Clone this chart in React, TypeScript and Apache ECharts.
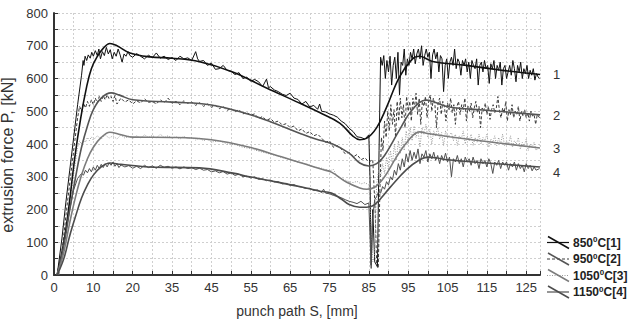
import React, { useEffect, useRef } from "react";
import * as echarts from "echarts";

// x positions are in axis-step units (one labelled step = 10 units); labels are printed as in the original
const X_TICK_LABELS = ["0", "10", "20", "35", "45", "55", "65", "75", "85", "95", "105", "115", "125"];
const TEMPS = ["850", "950", "1050", "1150"];
const CURVE_IDS = ["1", "2", "3", "4"];

// smoothed (computed) curves
const SMOOTH_850 = [[0.8,0],[2.5,100],[3.7,200],[5.3,360],[6.8,480],[8.3,575],[9.5,630],[10.9,665],[12.5,692],[14.2,707],[16,700],[19.3,678],[24.4,666],[30,662],[37,651],[45.4,620],[54,571],[62.4,525],[67.5,496],[72.6,464],[75.9,425],[77.7,413],[79.4,417],[82,450],[84.5,512],[87.8,605],[91.1,660],[92.9,668],[96.2,652],[104.8,640],[113.2,626],[123.5,612]];
const SMOOTH_950 = [[0.8,0],[2.5,90],[4,200],[5.5,300],[7,390],[8.5,455],[10,505],[12,540],[14.5,556],[16.5,550],[20,535],[30,528],[40,519],[49.7,490],[55,468],[62.4,433],[66.5,415],[70.8,400],[75,372],[77.7,342],[80,333],[82,340],[84,365],[87.8,443],[91,504],[94.6,534],[96.2,530],[100.5,513],[108.9,504],[123.5,489]];
const SMOOTH_1050 = [[0.8,0],[2.5,70],[4,160],[5.5,240],[7,305],[8.5,355],[10,390],[12,420],[14.2,436],[16.5,430],[20,421],[30,420],[40,413],[49.7,390],[58,360],[64,338],[68.3,322],[70.5,314],[74.4,283],[77.7,266],[79.5,262],[81.5,268],[84,300],[87,360],[90,410],[92.9,437],[95,432],[100.5,422],[113,403],[123.5,388]];
const SMOOTH_1150 = [[0.8,0],[2.5,50],[4,120],[5.5,180],[7,235],[8.5,275],[10,305],[12,330],[14.2,342],[17,338],[24,330],[37,327],[45.5,311],[49.7,300],[54,290],[62.4,270],[67.5,256],[70.5,250],[73,232],[75,215],[77.7,207],[79.5,207],[81.5,215],[85.3,266],[89.5,321],[92.9,352],[95,360],[97,358],[100,352],[110,342],[123.5,330]];

// measured (noisy) curves
const MEAS_850 = [[0.8,0],[2,110],[3,220],[4,320],[5,420],[6,520],[7,610],[7.4,655],[7.6,640],[7.9,668],[8.3,655],[8.7,672],[9.2,662],[9.6,680],[10,668],[10.5,685],[11,670],[11.4,690],[11.8,660],[12.3,682],[12.8,670],[13.3,695],[13.8,675],[14.3,688],[14.8,660],[15.3,680],[15.8,668],[16.3,690],[16.8,672],[17.3,650],[17.8,675],[18.3,668],[18.8,682],[19.3,670],[20,665],[21,676],[22,668],[23,660],[24,671],[25,664],[26,678],[27,662],[28,668],[29,658],[30,664],[31,655],[32,668],[33,660],[34,663],[35,655],[36,682],[36.5,660],[37,652],[38,655],[39,640],[40,647],[41,628],[42,630],[43,640],[44,625],[45,622],[46,612],[47,618],[48,600],[49,604],[50,592],[51,597],[52,590],[53,575],[54,598],[54.5,572],[55,575],[56,565],[57,560],[58,552],[59,548],[60,555],[61,540],[62,536],[63,522],[64,530],[65,513],[66,518],[67,506],[67.5,522],[68,500],[69,498],[70,492],[71,488],[72,482],[73,470],[74,462],[75,448],[76,438],[77,422],[78,420],[79,415],[80,428],[80.3,300],[80.6,30],[81,200],[81.5,40],[82.2,25],[82.6,380],[83,665],[83.4,640],[83.8,670],[84.2,600],[84.6,655],[85,620],[85.4,668],[85.8,580],[86.2,640],[86.6,665],[87,600],[87.4,680],[87.8,550],[88.2,650],[88.6,640],[89,690],[89.4,610],[89.8,660],[90.2,640],[90.6,680],[91,660],[91.4,690],[91.8,645],[92.2,675],[92.6,690],[93,660],[93.4,700],[93.8,640],[94.2,670],[94.6,690],[95,665],[95.4,680],[95.8,600],[96.2,672],[96.6,690],[97,660],[97.4,680],[97.8,620],[98.2,670],[98.6,660],[99,560],[99.4,640],[99.8,660],[100.2,600],[100.6,650],[101,665],[101.4,640],[101.8,690],[102.2,630],[102.6,660],[103,650],[103.4,610],[103.8,655],[104.2,640],[104.6,660],[105,620],[105.4,650],[105.8,600],[106.2,655],[106.6,640],[107,630],[107.4,660],[107.8,580],[108.2,640],[108.6,650],[109,620],[109.4,655],[109.8,630],[110.2,640],[110.6,585],[111,645],[111.4,630],[111.8,655],[112.2,600],[112.6,640],[113,625],[113.4,650],[113.8,580],[114.2,630],[114.6,640],[115,600],[115.4,620],[115.8,640],[116.2,610],[116.6,655],[117,630],[117.4,590],[117.8,640],[118.2,620],[118.6,650],[119,600],[119.4,630],[119.8,615],[120.2,640],[120.6,600],[121,625],[121.4,610],[121.8,630],[122.2,595],[122.6,615],[123,605],[123.4,600]];
const MEAS_950 = [[1.2,0],[2.2,90],[3.2,200],[4.2,300],[5.2,400],[6,480],[6.5,515],[7,500],[7.5,525],[8,510],[8.5,530],[9,515],[9.5,535],[10,520],[10.5,540],[11,525],[11.5,545],[12,530],[12.5,548],[13,535],[13.5,550],[14,538],[14.5,545],[15,530],[15.5,548],[16,522],[17,540],[18,528],[19,535],[20,522],[21,532],[22,525],[23,538],[24,527],[25,530],[26,522],[27,535],[28,526],[29,540],[30,524],[31,530],[32,520],[33,532],[34,524],[35,528],[36,518],[37,526],[38,515],[39,522],[40,512],[41,518],[42,508],[43,514],[44,503],[45,508],[46,498],[47,505],[48,492],[49,496],[50,488],[51,492],[52,478],[53,484],[54,472],[55,478],[56,466],[57,470],[58,458],[59,462],[60,450],[61,455],[62,440],[63,446],[64,432],[65,438],[66,425],[67,430],[68,418],[69,405],[70,410],[71,390],[72,395],[73,385],[74,370],[75,375],[76,360],[77,368],[78,352],[79,358],[80,345],[81,352],[81.6,200],[82,30],[82.4,20],[82.8,250],[83.2,420],[83.6,380],[84,470],[84.4,420],[84.8,500],[85.2,440],[85.6,520],[86,460],[86.4,505],[86.8,420],[87.2,530],[87.6,470],[88,540],[88.4,480],[88.8,520],[89.2,450],[89.6,545],[90,500],[90.4,530],[90.8,470],[91.2,540],[91.6,510],[92,555],[92.4,490],[92.8,540],[93.2,460],[93.6,530],[94,515],[94.4,545],[94.8,480],[95.2,530],[95.6,550],[96,500],[96.4,540],[96.8,520],[97.2,450],[97.6,525],[98,540],[98.4,490],[98.8,530],[99.2,515],[99.6,470],[100,525],[100.4,505],[100.8,540],[101.2,495],[101.6,520],[102,460],[102.4,515],[102.8,530],[103.2,490],[103.6,520],[104,505],[104.4,540],[104.8,470],[105.2,515],[105.6,500],[106,525],[106.4,480],[106.8,510],[107.2,530],[107.6,495],[108,515],[108.4,450],[108.8,510],[109.2,500],[109.6,525],[110,490],[110.4,515],[110.8,475],[111.2,505],[111.6,520],[112,495],[112.4,510],[112.8,545],[113.2,500],[113.6,480],[114,510],[114.4,495],[114.8,530],[115.2,470],[115.6,505],[116,490],[116.4,520],[116.8,480],[117.2,500],[117.6,490],[118,515],[118.4,470],[118.8,500],[119.2,485],[119.6,505],[120,480],[120.4,495],[120.8,470],[121.2,500],[121.6,485],[122,490],[122.4,460],[122.8,490],[123.4,480]];
const MEAS_1050 = [[1.2,0],[2.3,80],[3.3,160],[4.3,250],[5.3,330],[6,390],[6.5,410],[7,400],[7.5,415],[8,405],[8.5,420],[9,410],[9.5,422],[10,412],[11,425],[12,415],[13,428],[14,418],[15,425],[16,415],[17,428],[18,418],[19,424],[20,416],[21,425],[22,418],[23,428],[24,420],[25,426],[26,418],[27,430],[28,420],[29,425],[30,418],[31,422],[32,415],[33,424],[34,416],[35,420],[36,412],[37,418],[38,410],[39,415],[40,406],[42,410],[44,400],[46,398],[48,390],[50,386],[52,378],[54,372],[56,366],[58,358],[60,352],[62,344],[64,340],[66,330],[68,326],[70,318],[71,322],[72,300],[73,295],[74,290],[75,285],[76,282],[77,286],[78,278],[79,282],[80,275],[80.6,150],[81,40],[81.5,60],[82,280],[82.5,320],[83,300],[83.5,340],[84,310],[84.5,360],[85,320],[85.5,380],[86,340],[86.5,400],[87,350],[87.5,410],[88,370],[88.5,420],[89,380],[89.5,440],[90,400],[90.5,450],[91,410],[91.5,455],[92,420],[92.5,440],[93,390],[93.5,450],[94,430],[94.5,460],[95,420],[95.5,445],[96,400],[96.5,440],[97,425],[97.5,450],[98,415],[98.5,435],[99,395],[99.5,440],[100,420],[101,435],[101.5,410],[102,430],[102.5,395],[103,425],[103.5,415],[104,440],[104.5,400],[105,425],[105.5,410],[106,430],[106.5,395],[107,420],[107.5,405],[108,430],[108.5,400],[109,420],[109.5,410],[110,430],[110.5,390],[111,415],[111.5,405],[112,425],[112.5,395],[113,420],[113.5,400],[114,430],[114.5,395],[115,410],[115.5,400],[116,425],[116.5,390],[117,410],[117.5,400],[118,420],[118.5,385],[119,405],[119.5,395],[120,415],[120.5,380],[121,400],[121.5,390],[122,405],[122.5,380],[123.4,395]];
const MEAS_1150 = [[1,0],[2,60],[3,130],[4,200],[5,260],[6,295],[7,310],[7.5,305],[8,320],[8.5,312],[9,325],[9.5,315],[10,330],[10.5,320],[11,335],[11.5,325],[12,338],[12.5,328],[13,340],[13.5,330],[14,342],[14.5,335],[15,345],[15.5,332],[16,340],[16.5,328],[17,336],[18,330],[19,334],[20,326],[21,332],[22,325],[23,335],[24,328],[25,333],[26,326],[27,335],[28,329],[29,332],[30,326],[31,330],[32,324],[33,330],[34,325],[35,328],[36,322],[37,326],[38,320],[39,322],[40,315],[41,318],[42,312],[43,316],[44,308],[45,312],[46,304],[47,308],[48,300],[49,302],[50,296],[51,300],[52,292],[53,294],[54,288],[55,290],[56,284],[57,285],[58,278],[59,280],[60,274],[61,276],[62,270],[63,268],[64,264],[65,265],[66,258],[67,260],[68,252],[68.5,262],[69,250],[70,248],[71,243],[72,240],[73,236],[74,230],[75,225],[76,222],[77,218],[78,225],[79,215],[80,220],[80.3,120],[80.6,20],[81,180],[81.5,230],[82,240],[82.5,255],[83,250],[83.5,270],[84,262],[84.5,285],[85,275],[85.5,300],[86,290],[86.5,320],[87,305],[87.5,340],[88,320],[88.5,355],[89,330],[89.5,370],[90,345],[90.5,380],[91,350],[91.5,375],[92,355],[92.5,385],[93,340],[93.5,370],[94,360],[94.5,380],[95,345],[95.5,370],[96,355],[96.5,375],[97,350],[97.5,365],[98,340],[98.5,365],[99,350],[99.5,372],[100,345],[100.5,360],[101,300],[101.5,355],[102,345],[102.5,365],[103,340],[103.5,355],[104,330],[104.5,360],[105,345],[105.5,355],[106,335],[106.5,360],[107,340],[107.5,350],[108,325],[108.5,355],[109,340],[109.5,350],[110,330],[110.5,355],[111,340],[111.5,310],[112,345],[112.5,335],[113,350],[113.5,325],[114,345],[114.5,335],[115,345],[115.5,320],[116,340],[116.5,330],[117,345],[117.5,320],[118,340],[118.5,325],[119,335],[119.5,315],[120,340],[120.5,325],[121,335],[121.5,318],[122,330],[122.5,320],[123.4,325]];

const SMOOTH = [SMOOTH_850, SMOOTH_950, SMOOTH_1050, SMOOTH_1150];
const MEAS = [MEAS_850, MEAS_950, MEAS_1050, MEAS_1150];

const FONT = "'Liberation Sans', Arial, sans-serif";

const MEAS_STYLE = [
  { color: "#111111", width: 1, type: "solid" },
  { color: "#3a3a3a", width: 1, type: [3, 2] },
  { color: "#9a9a9a", width: 1, type: [1, 1.5] },
  { color: "#505050", width: 1, type: "solid" },
];
const SMOOTH_STYLE = [
  { color: "#111111", width: 1.6 },
  { color: "#555555", width: 1.6 },
  { color: "#7c7c7c", width: 1.6 },
  { color: "#4c4c4c", width: 1.6 },
];
const END_OFFSET = [[0, 0], [0, 1], [0, 1], [0, 6]];

export default function App() {
  const ref = useRef<HTMLDivElement>(null);
  useEffect(() => {
    if (!ref.current) return;
    const chart = echarts.init(ref.current, null, { renderer: "svg" });
    const series: any[] = [];
    MEAS.forEach((d, i) => {
      series.push({
        type: "line",
        name: TEMPS[i] + " measured",
        data: d,
        symbol: "none",
        lineStyle: MEAS_STYLE[i],
        z: 2,
      });
    });
    SMOOTH.forEach((d, i) => {
      series.push({
        type: "line",
        name: TEMPS[i] + " model",
        data: d,
        symbol: "none",
        smooth: 0.4,
        lineStyle: SMOOTH_STYLE[i],
        z: 3,
        endLabel: {
          show: true,
          formatter: CURVE_IDS[i],
          distance: 13,
          offset: END_OFFSET[i],
          fontSize: 13,
          fontFamily: FONT,
          color: "#333",
        },
      });
    });

    const legendGraphics: any[] = [];
    TEMPS.forEach((t, i) => {
      const y = 242.5 + i * 16.5;
      const ms = MEAS_STYLE[i];
      legendGraphics.push({
        type: "line",
        shape: { x1: 547, y1: y, x2: 569, y2: y },
        style: { stroke: ms.color, lineWidth: 1.2, lineDash: Array.isArray(ms.type) ? ms.type : null },
        silent: true,
      });
      legendGraphics.push({
        type: "line",
        shape: { x1: 548, y1: y - 6, x2: 569, y2: y + 6 },
        style: { stroke: SMOOTH_STYLE[i].color, lineWidth: 1.6 },
        silent: true,
      });
      legendGraphics.push({
        type: "text",
        x: 573,
        y: y,
        style: {
          text: `{b|${t}}{s|0}{b|C[${CURVE_IDS[i]}]}`,
          verticalAlign: "middle",
          align: "left",
          rich: {
            b: { fontSize: 12, fontWeight: "bold", fontFamily: FONT, fill: "#222", lineHeight: 14 },
            s: { fontSize: 8, fontWeight: "bold", fontFamily: FONT, fill: "#222", lineHeight: 8, verticalAlign: "top" },
          },
        },
        silent: true,
      });
    });

    chart.setOption({
      animation: false,
      grid: { left: 54, right: 93, top: 13, bottom: 45, containLabel: false, outerBoundsMode: "none" },
      xAxis: {
        type: "value",
        min: 0,
        max: 123.5,
        interval: 5,
        name: "punch path S, [mm]",
        nameLocation: "middle",
        nameGap: 29,
        nameTextStyle: { fontSize: 14, fontFamily: FONT, color: "#333" },
        axisLine: { show: true, lineStyle: { color: "#333", width: 2 } },
        axisTick: { show: true, inside: true, length: 4, lineStyle: { color: "#333" } },
        axisLabel: {
          fontSize: 13,
          fontFamily: FONT,
          color: "#333",
          margin: 6,
          formatter: (v: number) => {
            const k = Math.round(v);
            if (Math.abs(v - k) > 1e-6 || k % 10 !== 0) return "";
            return X_TICK_LABELS[k / 10] ?? "";
          },
        },
        splitLine: { show: true, lineStyle: { color: "#cfcfcf", type: [2, 2], width: 1 } },
      },
      yAxis: {
        type: "value",
        min: 0,
        max: 800,
        interval: 50,
        name: "extrusion force P, [kN]",
        nameLocation: "middle",
        nameGap: 24,
        nameTextStyle: { fontSize: 16, fontFamily: FONT, color: "#333", padding: [0, 22, 0, 0] },
        axisLine: { show: true, lineStyle: { color: "#333", width: 2 } },
        axisTick: { show: true, inside: true, length: 4, lineStyle: { color: "#333" } },
        axisLabel: {
          fontSize: 13,
          fontFamily: FONT,
          color: "#333",
          margin: 6,
          formatter: (v: number) => (v % 100 === 0 ? String(v) : ""),
        },
        splitLine: { show: true, lineStyle: { color: "#cfcfcf", type: [2, 2], width: 1 } },
      },
      series,
      graphic: legendGraphics,
    });
    return () => chart.dispose();
  }, []);
  return (
    <div
      ref={ref}
      style={{ position: "fixed", left: 0, top: 0, width: 633, height: 320, background: "#fff" }}
    />
  );
}
